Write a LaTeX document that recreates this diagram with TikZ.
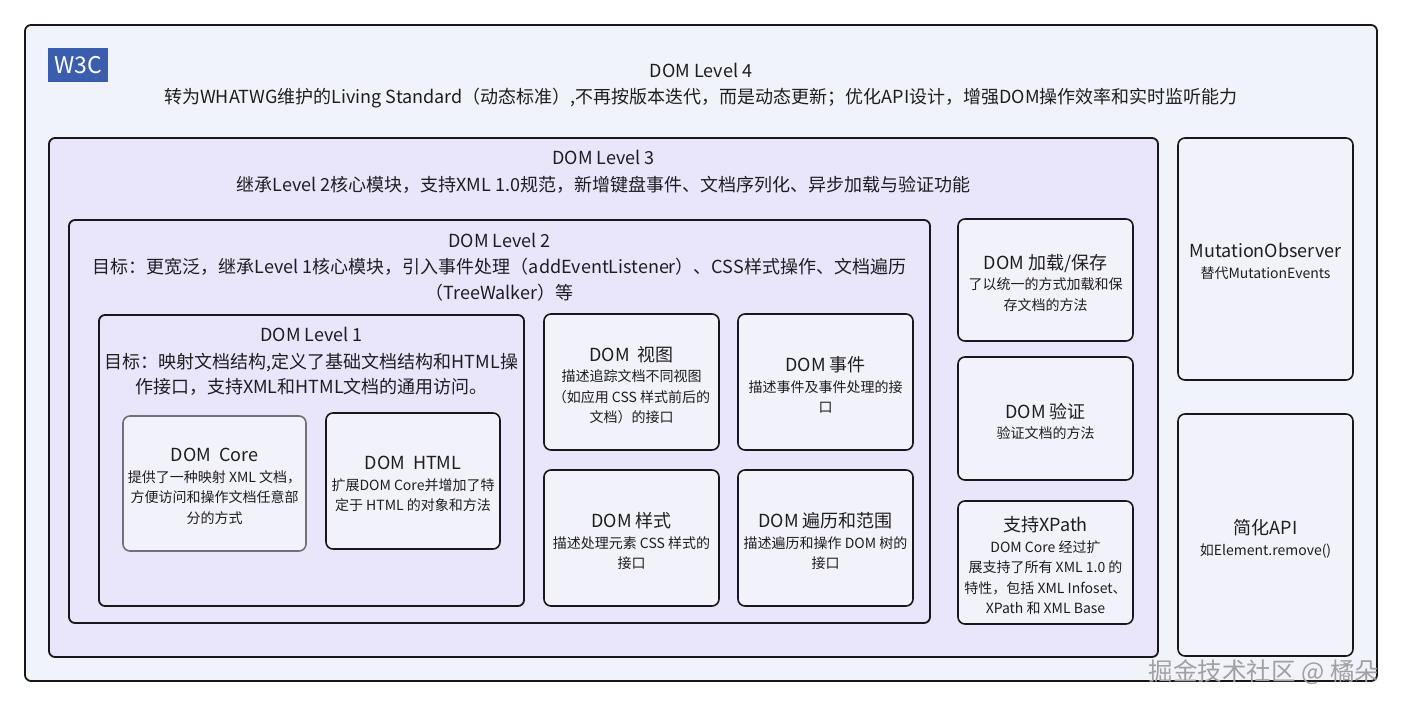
\documentclass[tikz,border=0pt]{standalone}
\usepackage{fontspec}
\setmainfont{Noto Sans CJK SC}
\definecolor{outerc}{RGB}{241,243,251}
\definecolor{lvlc}{RGB}{233,229,250}
\definecolor{subc}{RGB}{242,242,250}
\definecolor{linec}{RGB}{24,24,28}
\definecolor{corec}{RGB}{112,112,122}
\definecolor{badgec}{RGB}{58,93,174}
\definecolor{txtc}{RGB}{30,30,34}
\definecolor{wmc}{RGB}{160,160,160}
\newcommand\bt[1]{{\fontsize{18}{22}\selectfont #1}}
\begin{document}
\begin{tikzpicture}[x=1pt,y=-1pt,
  frame/.style={draw=linec, line width=1.8pt, rounded corners=6pt, inner sep=0pt},
  lvl/.style={frame, fill=lvlc},
  sbox/.style={draw=linec, line width=1.6pt, rounded corners=7pt, fill=subc, inner sep=0pt},
  stxt/.style={align=center, inner sep=0pt, text=txtc, font=\fontsize{14}{20.5}\selectfont},
  ttl/.style={anchor=base, inner sep=0pt, text=txtc, font=\fontsize{18}{22}\selectfont},
]
\useasboundingbox[fill=white] (0,0) rectangle (1402,706);

% outer W3C frame
\node[frame, fill=outerc, minimum width=1352, minimum height=656] (outer) at (701,353) {};
\node[fill=badgec, inner sep=0pt, minimum width=60, minimum height=34, text=white,
  font=\fontsize{23}{23}\selectfont] (badge) at (78,65) {W3C};
\node[ttl] (t4) at ([yshift=-53pt]outer.north) {DOM Level 4};
\node[ttl] (t4a) at ([yshift=-79.5pt]outer.north) {转为WHATWG维护的Living Standard（动态标准）,不再按版本迭代，而是动态更新；优化API设计，增强DOM操作效率和实时监听能力};

% Level 3
\node[lvl, minimum width=1109, minimum height=519] (L3) at (603.5,397.5) {};
\node[ttl] (t3) at ([yshift=-27.5pt]L3.north) {DOM Level 3};
\node[ttl] (t3a) at ([yshift=-54.5pt]L3.north) {继承Level 2核心模块，支持XML 1.0规范，新增键盘事件、文档序列化、异步加载与验证功能};

% Level 2
\node[lvl, minimum width=861, minimum height=403] (L2) at (499.5,421.5) {};
\node[ttl] (t2) at ([yshift=-28pt]L2.north) {DOM Level 2};
\node[ttl] (t2a) at ([yshift=-54.5pt]L2.north) {目标：更宽泛，继承Level 1核心模块，引入事件处理（addEventListener）、CSS样式操作、文档遍历};
\node[ttl] (t2b) at ([yshift=-80pt]L2.north) {（TreeWalker）等};

% Level 1
\node[lvl, minimum width=425, minimum height=291] (L1) at (311.5,460.5) {};
\node[ttl] (t1) at ([yshift=-27.5pt]L1.north) {DOM Level 1};
\node[ttl] (t1a) at ([yshift=-54pt]L1.north) {目标：映射文档结构,定义了基础文档结构和HTML操};
\node[ttl] (t1b) at ([yshift=-79.5pt]L1.north) {作接口，支持XML和HTML文档的通用访问。};

% Level 1 modules
\node[sbox, draw=corec, minimum width=183, minimum height=135] (core) at (214.5,483.5) {};
\node[stxt] (core-t) at ([yshift=-3pt]core.center)
  {\bt{DOM\ \ Core}\\提供了一种映射 XML 文档，\\方便访问和操作文档任意部\\分的方式};
\node[sbox, minimum width=174, minimum height=136] (html) at (413,481) {};
\node[stxt] (html-t) at ([yshift=-3pt]html.center)
  {\bt{DOM\ \ HTML}\\扩展DOM Core并增加了特\\定于 HTML 的对象和方法};

% Level 2 modules
\node[sbox, minimum width=175, minimum height=136] (view) at (631.5,382) {};
\node[stxt] (view-t) at ([yshift=-3pt]view.center)
  {\bt{DOM\ \ 视图}\\描述追踪文档不同视图\\（如应用 CSS 样式前后的\\文档）的接口};
\node[sbox, minimum width=175, minimum height=136] (event) at (825.5,382) {};
\node[stxt] (event-t) at ([yshift=-3pt]event.center)
  {\bt{DOM 事件}\\描述事件及事件处理的接\\口};
\node[sbox, minimum width=175, minimum height=136] (style) at (631.5,538) {};
\node[stxt] (style-t) at ([yshift=-3pt]style.center)
  {\bt{DOM 样式}\\描述处理元素 CSS 样式的\\接口};
\node[sbox, minimum width=175, minimum height=136] (trav) at (825.5,538) {};
\node[stxt] (trav-t) at ([yshift=-3pt]trav.center)
  {\bt{DOM 遍历和范围}\\描述遍历和操作 DOM 树的\\接口};

% Level 3 modules
\node[sbox, minimum width=175, minimum height=122] (load) at (1045.5,280) {};
\node[stxt] (load-t) at ([yshift=-3pt]load.center)
  {\bt{DOM 加载/保存}\\了以统一的方式加载和保\\存文档的方法};
\node[sbox, minimum width=175, minimum height=123] (valid) at (1045.5,418.5) {};
\node[stxt] (valid-t) at ([yshift=-3pt]valid.center)
  {\bt{DOM 验证}\\验证文档的方法};
\node[sbox, minimum width=175, minimum height=123] (xpath) at (1045.5,562.5) {};
\node[stxt] (xpath-t) at ([yshift=-3pt]xpath.center)
  {\bt{支持XPath}\\DOM Core 经过扩\\展支持了所有 XML 1.0 的\\特性，包括 XML Infoset、\\XPath 和 XML Base};

% Level 4 modules
\node[sbox, minimum width=175, minimum height=242] (mut) at (1265.5,259) {};
\node[stxt] (mut-t) at ([yshift=-2.5pt]mut.center)
  {\bt{MutationObserver}\\替代MutationEvents};
\node[sbox, minimum width=175, minimum height=242] (simp) at (1265.5,535) {};
\node[stxt] (simp-t) at ([yshift=-4pt]simp.center)
  {\bt{简化API}\\如Element.remove()};

% watermark
\node[anchor=base, inner sep=0pt, text=wmc, font=\fontsize{24.5}{24.5}\selectfont] (wm) at (1264,680) {掘金技术社区 @ 橘朵};
\end{tikzpicture}
\end{document}
